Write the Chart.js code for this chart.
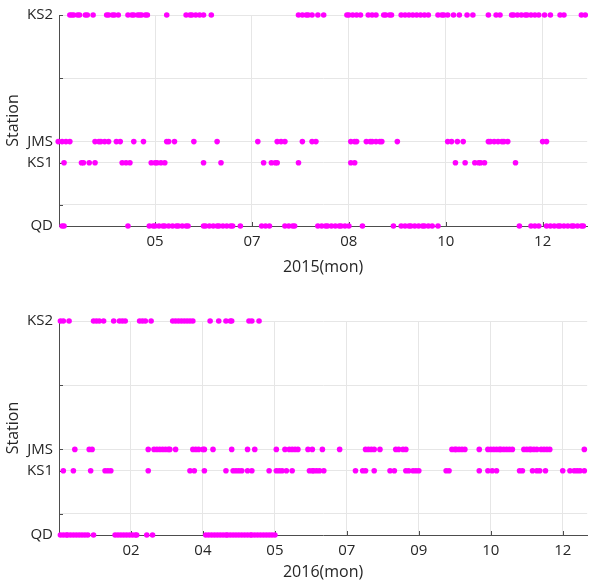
<!DOCTYPE html>
<html>
<head>
<meta charset="utf-8">
<script src="https://cdn.jsdelivr.net/npm/chart.js@4/dist/chart.umd.min.js"></script>
<style>
  body { margin: 0; background: #fff; }
  canvas { display: block; }
</style>
</head>
<body>
<canvas id="chart2015" width="590" height="290"></canvas>
<canvas id="chart2016" width="590" height="292"></canvas>
<script>
// station levels on the y axis
const stationNames = ['QD', 'KS1', 'JMS', 'KS2'];
const stationLevels = [0, 3, 4, 10];
const yTickValues = [0, 1, 3, 4, 7, 10];
const yTickLabels = ['QD', '', 'KS1', 'JMS', '', 'KS2'];

// 2015 - day of year with a record, per station
const qd2015 = [88, 89, 122, 133, 135, 136, 138, 140, 141, 143, 145, 147, 148, 150, 152, 153, 161, 162, 164, 166, 168, 169, 171, 173, 175, 176, 180, 191, 193, 195, 203, 205, 207, 208, 220, 222, 224, 225, 227, 229, 231, 232, 234, 236, 243, 259, 263, 265, 267, 268, 270, 272, 274, 275, 277, 279, 282, 324, 330, 332, 334, 338, 340, 342, 344, 345, 347, 349, 351, 352, 354, 356, 357];
const ks12015 = [89, 98, 99, 102, 105, 119, 121, 123, 134, 136, 137, 139, 141, 161, 170, 192, 196, 198, 199, 210, 237, 239, 291, 296, 301, 303, 304, 306, 322];
const jms2015 = [86, 88, 90, 92, 105, 107, 108, 110, 112, 116, 118, 125, 130, 142, 143, 146, 156, 168, 189, 199, 201, 203, 212, 217, 219, 237, 239, 240, 245, 247, 248, 250, 252, 253, 261, 287, 289, 292, 295, 308, 309, 311, 313, 315, 316, 318, 336, 338];
const ks22015 = [92, 93, 94, 96, 97, 100, 101, 104, 111, 112, 114, 115, 117, 122, 124, 125, 127, 128, 129, 131, 132, 142, 152, 154, 155, 157, 159, 161, 165, 210, 212, 214, 215, 217, 220, 223, 235, 236, 238, 240, 242, 246, 248, 250, 254, 255, 257, 258, 263, 265, 267, 269, 271, 273, 275, 277, 282, 284, 285, 287, 290, 293, 297, 300, 308, 312, 314, 320, 321, 323, 325, 327, 328, 330, 332, 334, 337, 340, 345, 347, 356, 358];
const ticks2015 = [136, 186, 236, 286, 336];
const tickLabels2015 = ['05', '07', '08', '10', '12'];

// 2016
const qd2016 = [1, 3, 5, 6, 8, 10, 12, 14, 16, 18, 20, 24, 39, 41, 43, 45, 47, 49, 51, 53, 54, 61, 65, 102, 104, 106, 108, 110, 112, 114, 116, 117, 119, 121, 123, 125, 127, 129, 131, 133, 134, 136, 138, 140, 142, 144, 146, 148, 150];
const ks12016 = [3, 10, 22, 32, 34, 36, 62, 91, 94, 101, 116, 121, 123, 125, 127, 131, 134, 146, 151, 153, 155, 158, 162, 174, 176, 177, 179, 181, 184, 206, 211, 213, 219, 230, 233, 241, 243, 246, 248, 250, 269, 271, 292, 298, 301, 304, 320, 322, 329, 332, 334, 338, 350, 355, 358, 360, 362, 365];
const jms2016 = [11, 21, 23, 62, 66, 68, 70, 72, 74, 76, 77, 81, 93, 95, 97, 100, 101, 107, 120, 131, 136, 151, 157, 160, 162, 164, 166, 173, 176, 183, 195, 213, 215, 217, 219, 223, 234, 236, 239, 241, 273, 275, 276, 278, 280, 282, 292, 298, 300, 302, 304, 306, 307, 309, 311, 313, 315, 323, 325, 327, 328, 330, 332, 335, 337, 339, 341, 365];
const ks22016 = [1, 3, 7, 24, 26, 28, 31, 38, 42, 44, 46, 56, 58, 60, 64, 79, 81, 83, 85, 87, 89, 91, 93, 105, 111, 116, 119, 120, 132, 134, 139];
const ticks2016 = [50, 100, 150, 200, 250, 300, 350];
const tickLabels2016 = ['02', '04', '05', '07', '09', '10', '12'];

const axisColor = '#4d4d4d';
const gridColor = '#e6e6e6';
const textColor = '#262626';
const fontFamily = "'Open Sans', sans-serif";

// MATLAB style ticks pointing into the plot
const innerTicks = {
  id: 'innerTicks',
  beforeDatasetsDraw(chart) {
    const { ctx, chartArea, scales } = chart;
    ctx.save();
    ctx.strokeStyle = axisColor;
    ctx.lineWidth = 1;
    ctx.beginPath();
    scales.y.ticks.forEach(t => {
      const py = Math.round(scales.y.getPixelForValue(t.value)) + 0.5;
      ctx.moveTo(chartArea.left, py);
      ctx.lineTo(chartArea.left + 4, py);
    });
    scales.x.ticks.forEach(t => {
      const px = Math.round(scales.x.getPixelForValue(t.value)) + 0.5;
      ctx.moveTo(px, chartArea.bottom);
      ctx.lineTo(px, chartArea.bottom - 4);
    });
    ctx.stroke();
    ctx.restore();
  }
};

const makeChart = (id, series, xMin, xMax, tickDays, tickLabels, title, s) => {
  const datasets = series.map((days, i) => ({
    label: stationNames[i],
    data: days.map(d => ({ x: d, y: stationLevels[i] })),
    backgroundColor: '#ff00ff',
    pointRadius: 2.8,
    pointBorderWidth: 0,
    pointHoverRadius: 2.8,
    clip: false
  }));

  return new Chart(document.getElementById(id), {
    type: 'scatter',
    data: { datasets },
    plugins: [innerTicks],
    options: {
      responsive: false,
      animation: false,
      layout: { padding: { top: s.top, left: 0, right: 0, bottom: 0 } },
      plugins: { legend: { display: false }, tooltip: { enabled: false } },
      scales: {
        x: {
          type: 'linear',
          min: xMin,
          max: xMax,
          afterBuildTicks: scale => { scale.ticks = tickDays.map(v => ({ value: v })); },
          afterFit: scale => { scale.height = s.xHeight; },
          ticks: {
            autoSkip: false,
            maxRotation: 0,
            padding: 7,
            color: textColor,
            font: { family: fontFamily, size: 15 },
            callback: (v, i) => tickLabels[i]
          },
          grid: { color: gridColor, drawTicks: false },
          border: { color: axisColor, width: 1 },
          title: {
            display: true,
            text: title,
            color: textColor,
            font: { family: fontFamily, size: 16 },
            padding: { top: 0, bottom: s.titlePad }
          }
        },
        y: {
          type: 'linear',
          min: 0,
          max: 10,
          afterBuildTicks: scale => { scale.ticks = yTickValues.map(v => ({ value: v })); },
          afterFit: scale => { scale.width = 59; },
          ticks: {
            autoSkip: false,
            padding: 6,
            color: textColor,
            font: { family: fontFamily, size: 15 },
            callback: (v, i) => yTickLabels[i]
          },
          grid: {
            color: ctx => (ctx.tick && ctx.tick.value === 0 ? 'rgba(0,0,0,0)' : gridColor),
            drawTicks: false
          },
          border: { color: axisColor, width: 1 },
          title: {
            display: true,
            text: 'Station',
            color: textColor,
            font: { family: fontFamily, size: 16 },
            padding: { top: 4, bottom: 0 }
          }
        }
      }
    }
  });
};

makeChart('chart2015', [qd2015, ks12015, jms2015, ks22015], 86.4, 359, ticks2015, tickLabels2015, '2015(mon)',
  { top: 14, xHeight: 64, titlePad: 13 });
makeChart('chart2016', [qd2016, ks12016, jms2016, ks22016], 0, 367, ticks2016, tickLabels2016, '2016(mon)',
  { top: 31, xHeight: 47, titlePad: 0 });
</script>
</body>
</html>
